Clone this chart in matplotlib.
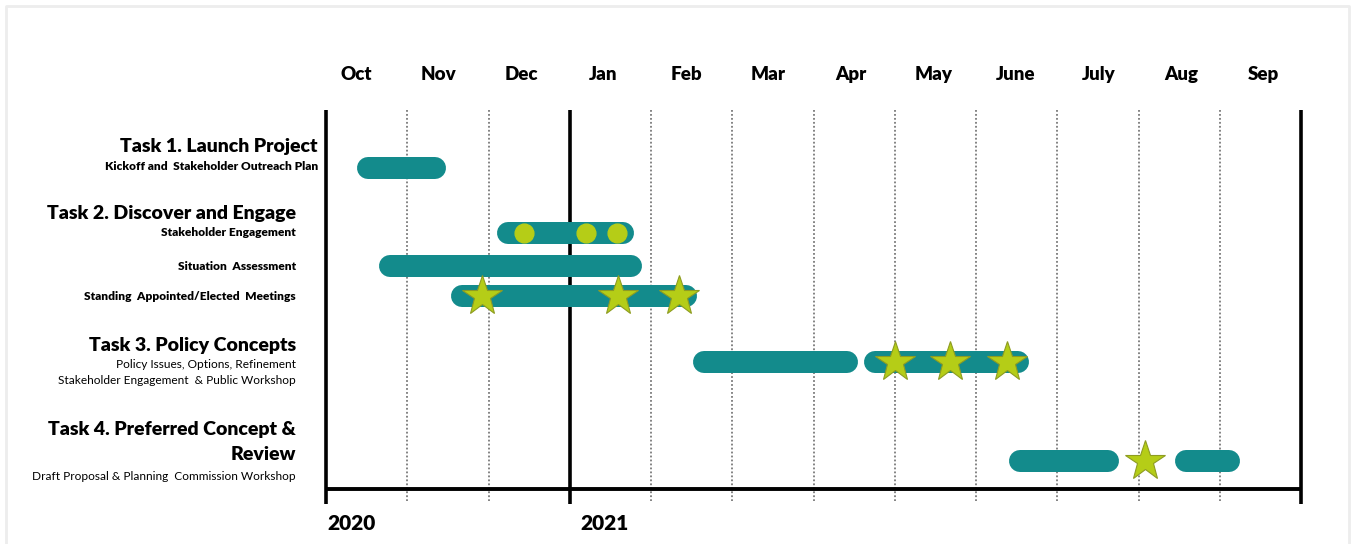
import matplotlib
matplotlib.use("Agg")
import matplotlib.pyplot as plt
from matplotlib.lines import Line2D

# ---------------- data ----------------
months = ["Oct", "Nov", "Dec", "Jan", "Feb", "Mar", "Apr", "May", "June", "July", "Aug", "Sep"]
years = ["2020", "2021"]
year_start = [0, 3]            # month index where the year begins
year_label_x = [0.02, 3.13]

row_y = [58, 123, 156, 186, 252, 351]   # vertical position of each activity row

bar_row = [0, 1, 2, 3, 4, 4, 5, 5]
bar_start = [0.38, 2.10, 0.65, 1.54, 4.52, 6.62, 8.41, 10.45]
bar_end = [1.48, 3.79, 3.89, 4.57, 6.55, 8.65, 9.76, 11.25]

circle_row = [1, 1, 1]
circle_x = [2.44, 3.20, 3.58]

star_row = [3, 3, 3, 4, 4, 4, 5]
star_x = [1.92, 3.59, 4.34, 7.00, 7.68, 8.38, 10.08]

task_titles = ["Task 1. Launch Project", "Task 2. Discover and Engage",
               "Task 3. Policy Concepts", "Task 4. Preferred Concept &", "Review"]
task_title_y = [36, 103, 235, 320, 345]
task_title_x = [-0.10, -0.37, -0.37, -0.37, -0.37]

sub_labels = ["Kickoff and  Stakeholder Outreach Plan", "Stakeholder Engagement",
              "Situation  Assessment", "Standing  Appointed/Elected  Meetings",
              "Policy Issues, Options, Refinement",
              "Stakeholder Engagement  & Public Workshop",
              "Draft Proposal & Planning  Commission Workshop"]
sub_y = [56, 123, 156, 187, 255, 271, 366]
sub_x = [-0.10, -0.37, -0.37, -0.37, -0.37, -0.37, -0.37]
sub_bold = [True, True, True, True, False, False, False]

# ---------------- style ----------------
TEAL = "#138B8C"
LIME = "#B5CD17"
LIME_EDGE = "#8E9C22"
FONT = ["Lato", "DejaVu Sans"]

W, H = 1352, 544
fig = plt.figure(figsize=(W / 100, H / 100), dpi=100)
fig.patch.set_facecolor("white")

# faint frame (left, top, right edges)
fx0, fx1, fy0, fy1 = 6 / W, 1349 / W, 0.0, 1 - 6 / H
fig.add_artist(Line2D([fx0, fx0, fx1, fx1], [fy0, fy1, fy1, fy0], transform=fig.transFigure,
                      color="#EDEDED", linewidth=2.0))

left, right, top, bottom = 326, 1301, 110, 489
ax = fig.add_axes([left / W, (H - bottom) / H, (right - left) / W, (bottom - top) / H])
ax.set_xlim(0, 12)
ax.set_ylim(bottom - top, 0)
ax.axis("off")

# grid lines
n = len(months)
for i in range(1, n):
    if i in year_start:
        continue
    ax.plot([i, i], [0, 391], color="#7A7A7A", linestyle=(0, (1, 1.2)), linewidth=1.3,
            clip_on=False, zorder=1)
for i in year_start + [n]:
    ax.plot([i, i], [0, 394], color="black", linewidth=2.6, clip_on=False, zorder=2,
            solid_capstyle="butt")
ax.plot([0, n], [bottom - top, bottom - top], color="black", linewidth=2.8, clip_on=False,
        zorder=2, solid_capstyle="butt")

# bars with rounded ends
bar_px = 22
lw_pt = bar_px * 72 / 100
cap = (bar_px / 2) / ((right - left) / 12)
for r, s, e in zip(bar_row, bar_start, bar_end):
    y = row_y[r]
    ax.plot([s + cap, e - cap], [y, y], color=TEAL, linewidth=lw_pt,
            solid_capstyle="round", zorder=3)

ax.plot(circle_x, [row_y[r] for r in circle_row], linestyle="none", marker="o",
        markersize=13.5, markerfacecolor=LIME, markeredgecolor=LIME, zorder=4)
ax.plot(star_x, [row_y[r] for r in star_row], linestyle="none", marker="*",
        markersize=30, markerfacecolor=LIME, markeredgecolor=LIME_EDGE,
        markeredgewidth=0.8, zorder=4)

# month labels
for i, m in enumerate(months):
    ax.text(0.37 + i * 1.0154, -36, m, ha="center", va="center", fontsize=13.5,
            fontweight="heavy", family=FONT, clip_on=False)

# year labels
for y, x in zip(years, year_label_x):
    ax.text(x, 414, y, ha="left", va="center", fontsize=15, fontweight="heavy",
            family=FONT, clip_on=False)

# task titles
for t, y, x in zip(task_titles, task_title_y, task_title_x):
    ax.text(x, y, t, ha="right", va="center", fontsize=14.0, fontweight="heavy",
            family=FONT, clip_on=False)

for t, y, x, b in zip(sub_labels, sub_y, sub_x, sub_bold):
    ax.text(x, y, t, ha="right", va="center", fontsize=8.6,
            fontweight="heavy" if b else "normal", family=FONT, clip_on=False)

fig.savefig("out.png", dpi=100, facecolor="white")
